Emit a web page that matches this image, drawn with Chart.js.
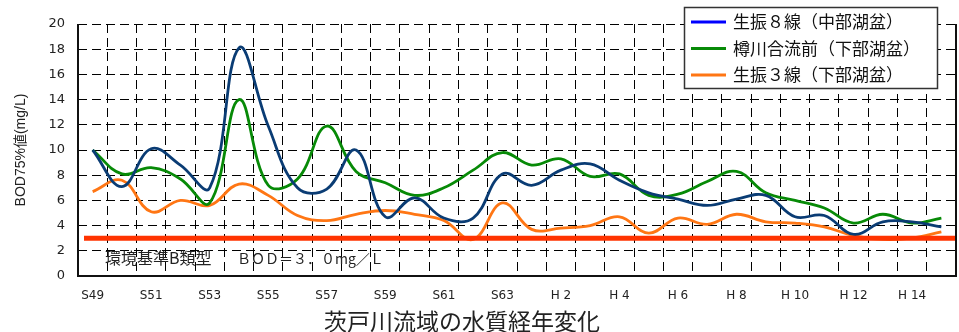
<!DOCTYPE html>
<html><head><meta charset="utf-8">
<script src="https://cdn.jsdelivr.net/npm/chart.js@4/dist/chart.umd.min.js"></script>
<style>html,body{margin:0;padding:0;background:#fff}#wrap{width:959px;height:332px;position:relative}</style>
</head><body><div id="wrap"><canvas id="c"></canvas></div>
<script>
const categories = ['S49','S50','S51','S52','S53','S54','S55','S56','S57','S58','S59','S60','S61','S62','S63',
  'H1','H2','H3','H4','H5','H6','H7','H8','H9','H10','H11','H12','H13','H14','H15'];
const tickLabels = ['S49','','S51','','S53','','S55','','S57','','S59','','S61','','S63',
  '','H 2','','H 4','','H 6','','H 8','','H 10','','H 12','','H 14',''];
const seriesNames = ['生振８線（中部湖盆）','樽川合流前（下部湖盆）','生振３線（下部湖盆）'];
const ikushunbetsu8 = [10.0,7.1,10.1,8.8,7.0,18.1,11.9,7.0,6.9,10.0,4.7,6.2,4.6,4.6,8.1,7.2,8.4,8.9,7.6,6.6,6.1,5.6,6.1,6.4,4.7,4.8,3.3,4.3,4.3,3.9];
const tarukawaGoryu = [10.0,8.1,8.6,7.7,5.8,14.0,7.2,7.7,11.9,8.3,7.4,6.4,7.0,8.4,9.8,8.8,9.3,7.9,8.1,6.4,6.5,7.5,8.3,6.6,6.0,5.4,4.2,4.9,4.2,4.6];
const ikushunbetsu3 = [6.7,7.6,5.1,6.0,5.6,7.3,6.4,4.8,4.4,4.9,5.2,4.9,4.4,2.9,5.8,3.7,3.8,4.0,4.7,3.4,4.6,4.1,4.9,4.3,4.2,3.9,3.2,2.9,3.0,3.5];
const lineColors = ['#0A3C74','#078A07','#FF7614'];
const legendColors = ['#0000FF','#078A07','#FF7614'];
const envStandard = 3.0;
const envLabelA = '環境基準B類型';
const envLabelB = 'ＢＯＤ＝３．０mg／Ｌ';
const yTitle = 'BOD75%値(mg/L)';
const xTitle = '茨戸川流域の水質経年変化';

const CJK = "'Noto Sans CJK JP', sans-serif";
const gridColor = '#000';

const decor = {
  id: 'decor',
  afterDatasetsDraw(chart) {
    const {ctx, chartArea: a, scales: {y}} = chart;
    const yy = y.getPixelForValue(envStandard);
    ctx.save();
    ctx.strokeStyle = '#FF3300';
    ctx.lineWidth = 5;
    ctx.beginPath();
    ctx.moveTo(a.left + 6, yy);
    ctx.lineTo(a.right, yy);
    ctx.stroke();
    // frame
    ctx.strokeStyle = '#111';
    ctx.lineWidth = 2;
    ctx.beginPath();
    ctx.moveTo(a.left, a.top); ctx.lineTo(a.left, a.bottom); ctx.lineTo(a.right, a.bottom); ctx.lineTo(a.right, a.top);
    ctx.stroke();
    // env label
    ctx.fillStyle = '#222';
    ctx.textBaseline = 'middle';
    ctx.textAlign = 'left';
    const ly = y.getPixelForValue(1.4);
    ctx.font = '16px ' + CJK;
    ctx.fillText(envLabelA, a.left + 27, ly);
    ctx.font = '14px ' + CJK;
    ctx.fillText(envLabelB, a.left + 159, ly);
    ctx.restore();
  },
  afterDraw(chart) {
    const {ctx, chartArea: a} = chart;
    ctx.save();
    // legend
    const bx = a.right - 272, by = 7, bw = 253, bh = 81;
    ctx.fillStyle = '#fff';
    ctx.fillRect(bx, by, bw, bh);
    ctx.strokeStyle = '#333';
    ctx.lineWidth = 1.5;
    ctx.strokeRect(bx + 0.5, by + 0.5, bw, bh);
    ctx.textBaseline = 'middle';
    ctx.textAlign = 'left';
    ctx.font = '17px ' + CJK;
    seriesNames.forEach((n, i) => {
      const ry = by + 15 + i * 26.5;
      ctx.strokeStyle = legendColors[i];
      ctx.lineWidth = 3;
      ctx.beginPath(); ctx.moveTo(bx + 7, ry); ctx.lineTo(bx + 42, ry); ctx.stroke();
      ctx.fillStyle = '#111';
      ctx.fillText(n, bx + 49, ry);
    });
    // x title
    ctx.font = '23px ' + CJK;
    ctx.textAlign = 'center';
    ctx.fillStyle = '#222';
    ctx.fillText(xTitle, a.left + 384, 321);
    ctx.restore();
  }
};

new Chart(document.getElementById('c'), {
  type: 'line',
  data: {
    labels: categories,
    datasets: [ikushunbetsu8, tarukawaGoryu, ikushunbetsu3].map((d, i) => ({
      label: seriesNames[i], data: d, borderColor: lineColors[i], backgroundColor: lineColors[i],
      borderWidth: 2.8, pointRadius: 0, tension: 0.4, fill: false
    }))
  },
  options: {
    responsive: true, maintainAspectRatio: false, animation: false, devicePixelRatio: 1,
    layout: {padding: {top: 24, right: 3, left: 0, bottom: 0}},
    plugins: {legend: {display: false}, tooltip: {enabled: false}},
    scales: {
      x: {
        offset: true,
        grid: {offset: true, color: gridColor, lineWidth: 1, drawTicks: false},
        border: {display: false, dash: [9, 5]},
        ticks: {autoSkip: false, maxRotation: 0, padding: 13, color: '#222',
          font: {family: 'DejaVu Sans', size: 12},
          callback: (v, i) => tickLabels[i]},
        afterFit: s => { s.height = 56; }
      },
      y: {
        min: 0, max: 20,
        grid: {color: gridColor, lineWidth: 1, drawTicks: false},
        border: {display: false, dash: [9, 5]},
        ticks: {stepSize: 2, padding: 13, color: '#222', font: {family: 'DejaVu Sans', size: 13}},
        title: {display: true, text: yTitle, color: '#222', padding: {top: 13, bottom: 0},
          font: {family: "'Liberation Sans Narrow','Liberation Sans','Noto Sans CJK JP',sans-serif", size: 14}},
        afterFit: s => { s.width = 78; }
      }
    }
  },
  plugins: [decor]
});
</script></body></html>
